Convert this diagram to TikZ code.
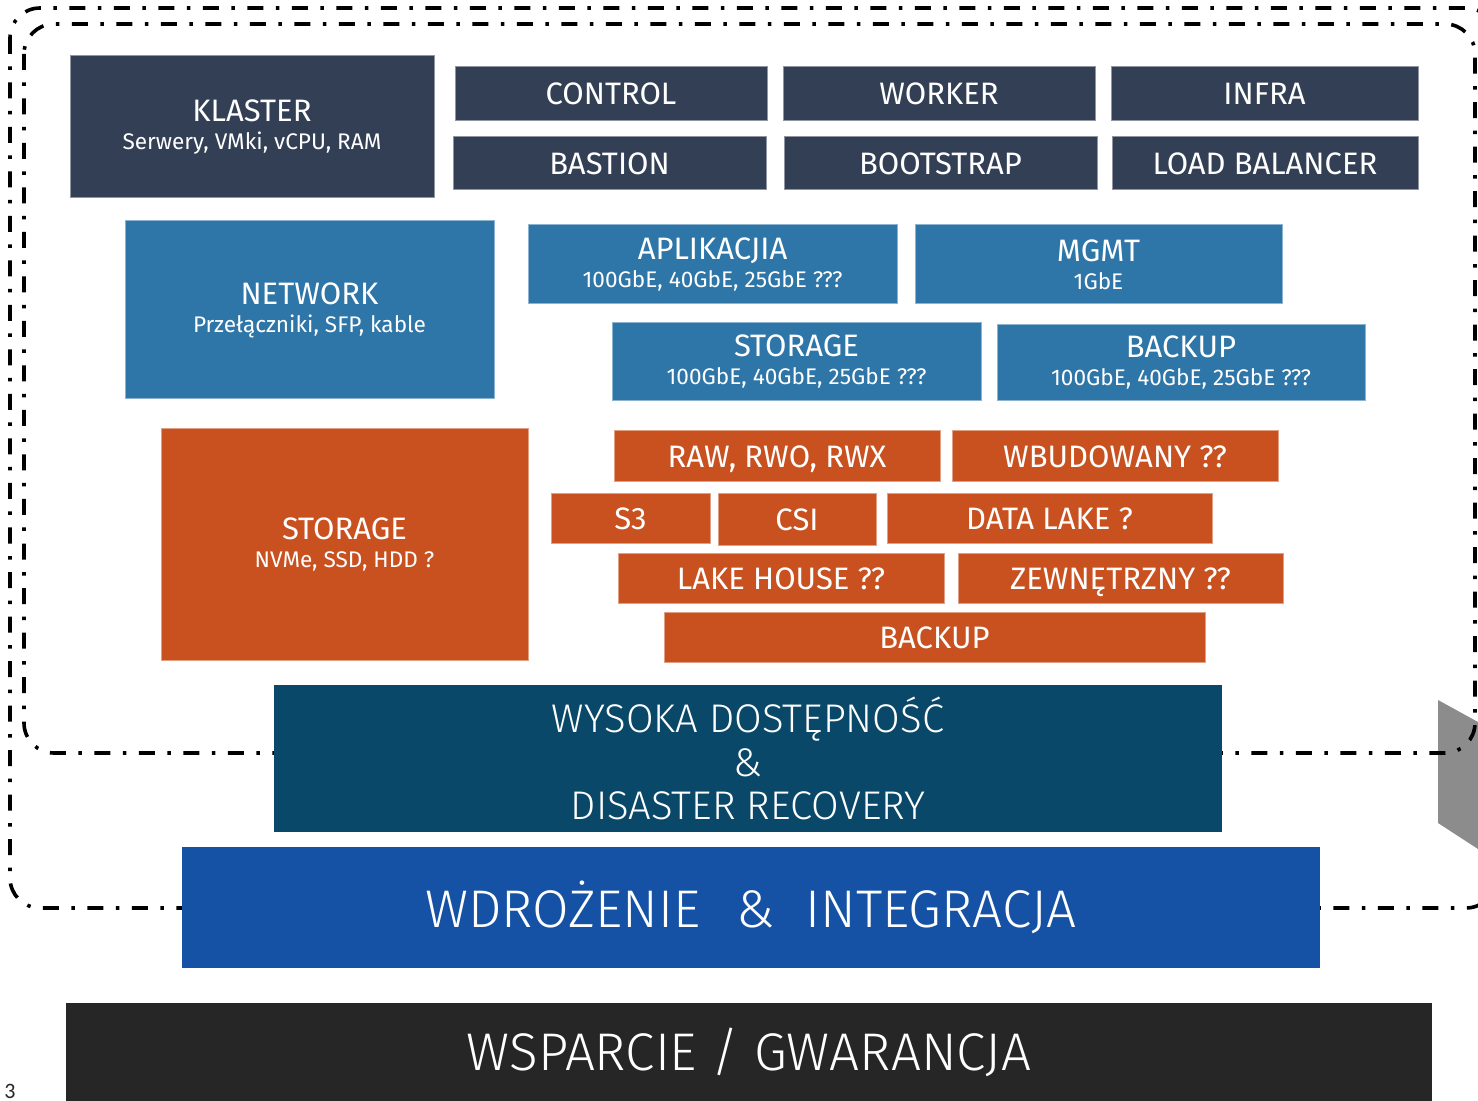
\documentclass[tikz,border=0pt]{standalone}
\usepackage{fontspec}
\setmainfont{Fira Sans}
\newfontfamily\lightfont{Fira Sans Light}
\newfontfamily\pagefont{Carlito}
\usetikzlibrary{fit}
\definecolor{klaster}{RGB}{51,63,85}
\definecolor{siec}{RGB}{46,117,168}
\definecolor{dysk}{RGB}{201,81,32}
\definecolor{ha}{RGB}{10,72,105}
\definecolor{wdrozenie}{RGB}{21,82,166}
\definecolor{wsparcie}{RGB}{38,38,38}
\definecolor{cien}{RGB}{140,140,140}
\tikzset{
	tile/.style={inner sep=0pt, line width=0.5pt},
	tiletext/.style={inner sep=0pt, text=white, align=center,
			font=\fontsize{15.5}{17}\selectfont},
	linetext/.style={tiletext, text height=11pt, text depth=0pt},
	navytile/.style={tile, fill=klaster, draw=klaster!55!white},
	bluetile/.style={tile, fill=siec, draw=siec!55!white},
	orangetile/.style={tile, fill=dysk, draw=dysk!55!white},
	band/.style={inner sep=0pt},
	bandtext/.style={inner sep=0pt, text=white, align=center, font=\lightfont},
	ramka/.style={line width=1.8pt, rounded corners=15pt,
			dash pattern=on 8pt off 6.25pt on 1.75pt off 6.25pt}
}
\newcommand{\podpis}[1]{\\[-3pt]{\fontsize{11.3}{13}\selectfont #1}}

\begin{document}
\begin{tikzpicture}[x=0.5pt, y=-0.5pt]
	\clip (0,0) rectangle (1478,1101);
	\fill[cien] (1438,700) -- (1478,722) -- (1478,849) -- (1438,823) -- cycle;
	% dashed frames
	\draw[ramka] (10,8) rectangle (1496,908);
	\draw[ramka] (24,24) rectangle (1475,753);

	% klaster
	\node[navytile, fit={(70,56) (434,198)}, label={[tiletext]center:{KLASTER\podpis{Serwery, VMki, vCPU, RAM}}}] (klaster) {};
	\node[navytile, fit={(455,67) (767,121)}, label={[linetext]center:CONTROL}] (control) {};
	\node[navytile, fit={(783,67) (1095,121)}, label={[linetext]center:WORKER}] (worker) {};
	\node[navytile, fit={(1111,67) (1418,121)}, label={[linetext]center:INFRA}] (infra) {};
	\node[navytile, fit={(453,137) (766,190)}, label={[linetext]center:BASTION}] (bastion) {};
	\node[navytile, fit={(784,137) (1097,190)}, label={[linetext]center:BOOTSTRAP}] (bootstrap) {};
	\node[navytile, fit={(1112,137) (1418,190)}, label={[linetext]center:LOAD BALANCER}] (lb) {};

	% network
	\node[bluetile, fit={(125,221) (494,399)}, label={[tiletext]center:{NETWORK\podpis{Przełączniki, SFP, kable}}}] (network) {};
	\node[bluetile, fit={(528,225) (897,304)}, label={[tiletext]center:{APLIKACJIA\podpis{100GbE, 40GbE, 25GbE ???}}}] (aplikacja) {};
	\node[bluetile, fit={(915,225) (1282,304)}, label={[tiletext]center:{MGMT\podpis{1GbE}}}] (mgmt) {};
	\node[bluetile, fit={(612,323) (981,401)}, label={[tiletext]center:{STORAGE\podpis{100GbE, 40GbE, 25GbE ???}}}] (netstorage) {};
	\node[bluetile, fit={(997,325) (1365,401)}, label={[tiletext]center:{BACKUP\podpis{100GbE, 40GbE, 25GbE ???}}}] (netbackup) {};

	% storage
	\node[orangetile, fit={(161,429) (528,660)}, label={[tiletext]center:{STORAGE\podpis{NVMe, SSD, HDD ?}}}] (storage) {};
	\node[orangetile, fit={(614,431) (940,482)}, label={[linetext]center:{RAW, RWO, RWX}}] (raw) {};
	\node[orangetile, fit={(952,431) (1278,482)}, label={[linetext]center:WBUDOWANY ??}] (wbudowany) {};
	\node[orangetile, fit={(551,494) (710,543)}, label={[linetext]center:S3}] (s3) {};
	\node[orangetile, fit={(718,494) (876,545)}, label={[linetext]center:CSI}] (csi) {};
	\node[orangetile, fit={(887,494) (1212,543)}, label={[linetext]center:DATA LAKE ?}] (datalake) {};
	\node[orangetile, fit={(618,553) (944,603)}, label={[linetext]center:LAKE HOUSE ??}] (lakehouse) {};
	\node[orangetile, fit={(958,553) (1283,603)}, label={[linetext]center:ZEWNĘTRZNY ??}] (zewnetrzny) {};
	\node[orangetile, fit={(664,612) (1205,662)}, label={[linetext]center:BACKUP}] (backup) {};

	% bottom bands
	\node[band, fill=ha, fit={(274,685) (1222,832)},
		label={[bandtext, font=\lightfont\fontsize{20}{21.75}\selectfont]center:{WYSOKA DOSTĘPNOŚĆ\\\&\\DISASTER RECOVERY}}] (ha) {};
	\node[band, fill=wdrozenie, fit={(182,847) (1320,968)},
		label={[bandtext, font=\lightfont\fontsize{26.5}{30}\selectfont]center:{WDROŻENIE\hspace{18pt}\&\hspace{15.5pt}INTEGRACJA}}] (wdrozenie) {};
	\node[band, fill=wsparcie, fit={(66,1003) (1432,1101)},
		label={[bandtext, font=\lightfont\fontsize{26.5}{30}\selectfont]center:{WSPARCIE / GWARANCJA}}] (wsparcie) {};

	\node[inner sep=0pt, font=\pagefont\fontsize{11}{12}\selectfont, text=black!85] (strona) at (10,1091) {3};
\end{tikzpicture}
\end{document}
